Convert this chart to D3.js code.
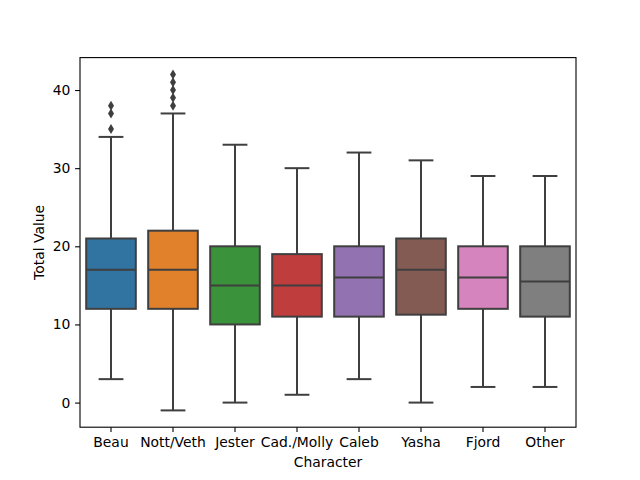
<!DOCTYPE html>
<html>
<head>
<meta charset="utf-8">
<script src="https://cdn.jsdelivr.net/npm/d3@7"></script>
<style>
  body { margin: 0; background: #fff; }
  svg { font-family: "DejaVu Sans", sans-serif; }
</style>
</head>
<body>
<svg id="chart" width="640" height="480"></svg>
<script>
// box stats
const characters = ["Beau", "Nott/Veth", "Jester", "Cad./Molly", "Caleb", "Yasha", "Fjord", "Other"];
const q1Values = [12, 12, 10, 11, 11, 11.25, 12, 11];
const medianValues = [17, 17, 15, 15, 16, 17, 16, 15.5];
const q3Values = [21, 22, 20, 19, 20, 21, 20, 20];
const whiskerLow = [3, -1, 0, 1, 3, 0, 2, 2];
const whiskerHigh = [34, 37, 33, 30, 32, 31, 29, 29];
const outliers = [[35, 37, 38], [38, 39, 40, 41, 42], [], [], [], [], [], []];
const boxColors = ["#3274a1", "#e1812c", "#3a923a", "#c03d3e", "#9372b2", "#845b53", "#d684bd", "#7f7f7f"];
const yTicks = [0, 10, 20, 30, 40];

const margin = {left: 80, right: 64, top: 57.6, bottom: 52.8};
const width = 640, height = 480;
const svg = d3.select("#chart");
const lineColor = "#3f3f3f";

const x = d3.scaleBand()
  .domain(characters)
  .range([margin.left, width - margin.right])
  .paddingInner(0).paddingOuter(0);

const allVals = whiskerLow.concat(whiskerHigh, outliers.flat());
const yMin = d3.min(allVals), yMax = d3.max(allVals);
const pad = (yMax - yMin) * 0.05;
const y = d3.scaleLinear()
  .domain([yMin - pad, yMax + pad])
  .range([height - margin.bottom, margin.top]);

const boxW = x.bandwidth() * 0.8;
const capW = boxW * 0.5;

const data = characters.map((c, i) => ({
  name: c, q1: q1Values[i], med: medianValues[i], q3: q3Values[i],
  lo: whiskerLow[i], hi: whiskerHigh[i], out: outliers[i], color: boxColors[i]
}));

const g = svg.append("g");
const groups = g.selectAll("g.box").data(data).enter().append("g").attr("class", "box");
const cx = d => x(d.name) + x.bandwidth() / 2;

// whiskers
groups.append("line")
  .attr("x1", cx).attr("x2", cx)
  .attr("y1", d => y(d.q3)).attr("y2", d => y(d.hi))
  .attr("stroke", lineColor).attr("stroke-width", 2);
groups.append("line")
  .attr("x1", cx).attr("x2", cx)
  .attr("y1", d => y(d.q1)).attr("y2", d => y(d.lo))
  .attr("stroke", lineColor).attr("stroke-width", 2);
// caps
groups.append("line")
  .attr("x1", d => cx(d) - capW / 2).attr("x2", d => cx(d) + capW / 2)
  .attr("y1", d => y(d.hi)).attr("y2", d => y(d.hi))
  .attr("stroke", lineColor).attr("stroke-width", 2);
groups.append("line")
  .attr("x1", d => cx(d) - capW / 2).attr("x2", d => cx(d) + capW / 2)
  .attr("y1", d => y(d.lo)).attr("y2", d => y(d.lo))
  .attr("stroke", lineColor).attr("stroke-width", 2);
// boxes
groups.append("rect")
  .attr("x", d => cx(d) - boxW / 2)
  .attr("width", boxW)
  .attr("y", d => y(d.q3))
  .attr("height", d => y(d.q1) - y(d.q3))
  .attr("fill", d => d.color)
  .attr("stroke", lineColor).attr("stroke-width", 2);
// medians
groups.append("line")
  .attr("x1", d => cx(d) - boxW / 2).attr("x2", d => cx(d) + boxW / 2)
  .attr("y1", d => y(d.med)).attr("y2", d => y(d.med))
  .attr("stroke", lineColor).attr("stroke-width", 2);
// outliers as diamonds
const diamond = "M0,-5L3,0L0,5L-3,0Z";
groups.each(function(d) {
  d3.select(this).selectAll("path.flier").data(d.out).enter().append("path")
    .attr("class", "flier")
    .attr("d", diamond)
    .attr("transform", v => `translate(${cx(d)},${y(v)})`)
    .attr("fill", lineColor);
});

// axes
const xAxis = svg.append("g")
  .attr("transform", `translate(0,${height - margin.bottom})`)
  .call(d3.axisBottom(x).tickSize(4.9).tickSizeOuter(0));
const yAxis = svg.append("g")
  .attr("transform", `translate(${margin.left},0)`)
  .call(d3.axisLeft(y).tickValues(yTicks).tickSize(4.9).tickSizeOuter(0));

[xAxis, yAxis].forEach(a => {
  a.select(".domain").remove();
  a.selectAll(".tick line").attr("stroke", "#000").attr("stroke-width", 1.1);
  a.selectAll(".tick text").attr("font-size", "13.9px").attr("fill", "#000")
    .attr("font-family", "DejaVu Sans, sans-serif");
});
xAxis.selectAll(".tick text").attr("dy", "0.71em").attr("y", 9.7);
yAxis.selectAll(".tick text").attr("x", -9.7);

// frame
svg.append("rect")
  .attr("x", margin.left).attr("y", margin.top)
  .attr("width", width - margin.left - margin.right)
  .attr("height", height - margin.top - margin.bottom)
  .attr("fill", "none").attr("stroke", "#000").attr("stroke-width", 1.1);

// axis labels
svg.append("text")
  .attr("x", (margin.left + width - margin.right) / 2)
  .attr("y", 466.5)
  .attr("text-anchor", "middle")
  .attr("font-size", "13.9px")
  .text("Character");
svg.append("text")
  .attr("transform", `translate(44,${(margin.top + height - margin.bottom) / 2}) rotate(-90)`)
  .attr("text-anchor", "middle")
  .attr("font-size", "13.9px")
  .text("Total Value");
</script>
</body>
</html>
